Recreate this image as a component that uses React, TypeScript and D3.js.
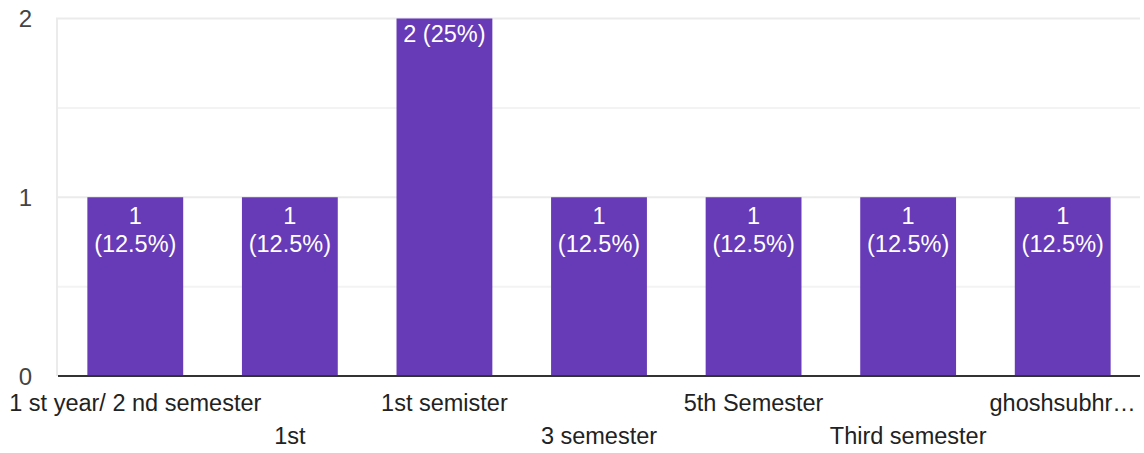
import React from "react";
import * as d3 from "d3";

const categories = [
  "1 st year/ 2 nd semester",
  "1st",
  "1st semister",
  "3 semester",
  "5th Semester",
  "Third semester",
  "ghoshsubhr…",
];
const counts = [1, 1, 2, 1, 1, 1, 1];
const pctLabels = ["12.5%", "12.5%", "25%", "12.5%", "12.5%", "12.5%", "12.5%"];
const yTicks = [0, 1, 2];
const yGrid = [0.5, 1, 1.5, 2];

const W = 1144;
const H = 453;
const M = { left: 58, right: 4, top: 18.5, bottom: 77 };
const FONT = "Arial, 'Liberation Sans', sans-serif";

export default function App() {
  const x = d3
    .scaleBand<string>()
    .domain(categories)
    .range([M.left, W - M.right])
    .paddingInner(0.38)
    .paddingOuter(0.19);
  const y = d3.scaleLinear().domain([0, 2]).range([H - M.bottom, M.top]);
  const step = (W - M.right - M.left) / categories.length;

  return (
    <svg
      width={W}
      height={H}
      style={{ position: "absolute", left: 0, top: 0, background: "#fff" }}
      fontFamily={FONT}
    >
      {yGrid.map((g) => (
        <line
          key={g}
          x1={M.left}
          x2={W - M.right}
          y1={y(g)}
          y2={y(g)}
          stroke={Number.isInteger(g) ? "#ebebeb" : "#f3f3f3"}
          strokeWidth={2}
        />
      ))}
      <line x1={M.left - 1} x2={M.left - 1} y1={M.top - 1} y2={y(0)} stroke="#ebebeb" strokeWidth={2} />
      {yTicks.map((t) => (
        <text key={t} x={32} y={y(t) + 8.5} textAnchor="end" fontSize={24} fill="#444">
          {t}
        </text>
      ))}
      {categories.map((c, i) => {
        const bx = x(c)!;
        const bw = x.bandwidth();
        const cx = M.left + step * (i + 0.5);
        const top = y(counts[i]);
        const h = y(0) - top;
        const twoLine = h < 250;
        return (
          <g key={c}>
            <rect x={bx} y={top} width={bw} height={h} fill="#673ab7" />
            {twoLine ? (
              <text textAnchor="middle" fill="#fff" fontSize={23.5}>
                <tspan x={cx} y={top + 26.5}>{counts[i]}</tspan>
                <tspan x={cx} y={top + 55}>({pctLabels[i]})</tspan>
              </text>
            ) : (
              <text x={cx} y={top + 23.5} textAnchor="middle" fill="#fff" fontSize={23.5}>
                {counts[i]} ({pctLabels[i]})
              </text>
            )}
            <text
              x={cx}
              y={i % 2 === 0 ? 411 : 444}
              textAnchor="middle"
              fill="#222"
              fontSize={23.5}
            >
              {c}
            </text>
          </g>
        );
      })}
      <line x1={M.left} x2={W - M.right} y1={y(0)} y2={y(0)} stroke="#333" strokeWidth={2} />
    </svg>
  );
}
